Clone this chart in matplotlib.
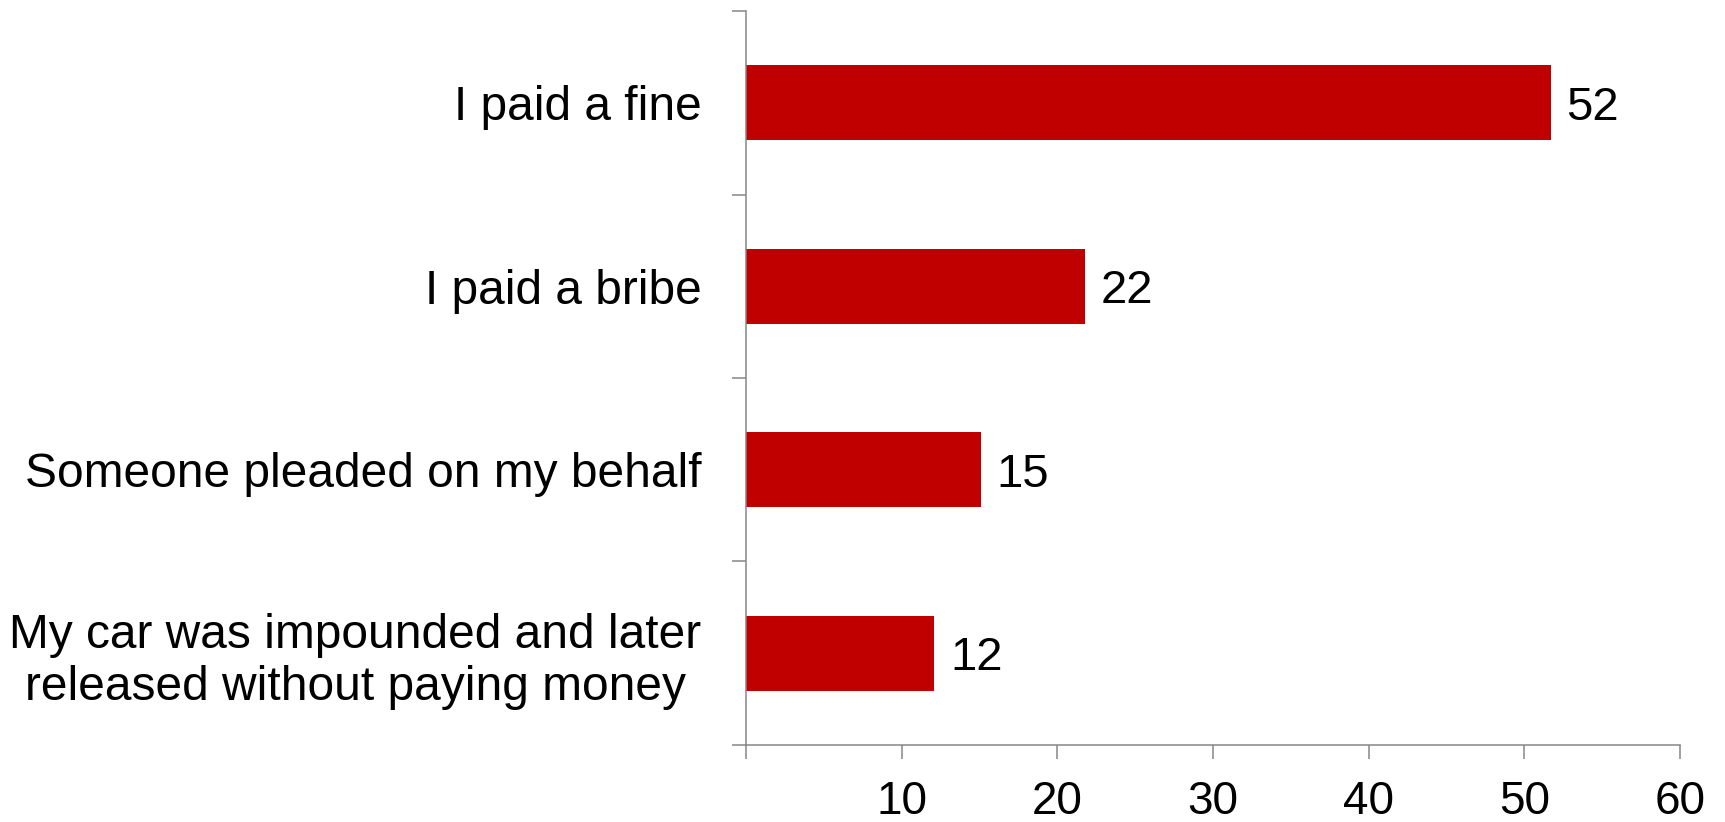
import matplotlib

matplotlib.use('Agg')

import numpy as np
import matplotlib.pyplot as plt

# data
categories = ['I paid a fine',
              'I paid a bribe',
              'Someone pleaded on my behalf',
              'My car was impounded and later\nreleased without paying money']
values = [51.7, 21.8, 15.1, 12.1]
value_labels = ['52', '22', '15', '12']
xticks = [0, 10, 20, 30, 40, 50, 60]
xticklabels = ['', '10', '20', '30', '40', '50', '60']

plt.rcParams['font.family'] = ['Liberation Sans', 'DejaVu Sans']

fig = plt.figure(figsize=(17.25, 8.22), dpi=100)
ax = fig.add_axes([0.4325, 0.0937, 0.9739 - 0.4325, 0.9866 - 0.0937])

ypos = np.arange(len(categories))
ax.barh(ypos, values, height=0.41, color='#c00000')

for y, v, lab in zip(ypos, values, value_labels):
    ax.text(v + 1.0, y, lab, fontsize=34, va='center_baseline', ha='left', color='black')

ax.set_xlim(0, 60)
ax.set_ylim(3.5, -0.5)

# category labels
ax.set_yticks(ypos)
ax.set_yticklabels(categories, fontsize=34.5)
ax.tick_params(axis='y', which='major', length=0, pad=32)
for lab in ax.get_yticklabels():
    lab.set_multialignment('center')
    lab.set_linespacing(1.2)

# boundary ticks
ax.set_yticks(np.arange(-0.5, 4.0, 1.0), minor=True)
ax.tick_params(axis='y', which='minor', length=10, width=1.1, color='#868686', direction='out')

ax.set_xticks(xticks)
ax.set_xticklabels(xticklabels, fontsize=33)
ax.tick_params(axis='x', length=10, width=1.1, color='#868686', direction='out', pad=15)

for s in ['top', 'right']:
    ax.spines[s].set_visible(False)
for s in ['left', 'bottom']:
    ax.spines[s].set_color('#868686')
    ax.spines[s].set_linewidth(1.1)

plt.savefig('out.png', dpi=100)
